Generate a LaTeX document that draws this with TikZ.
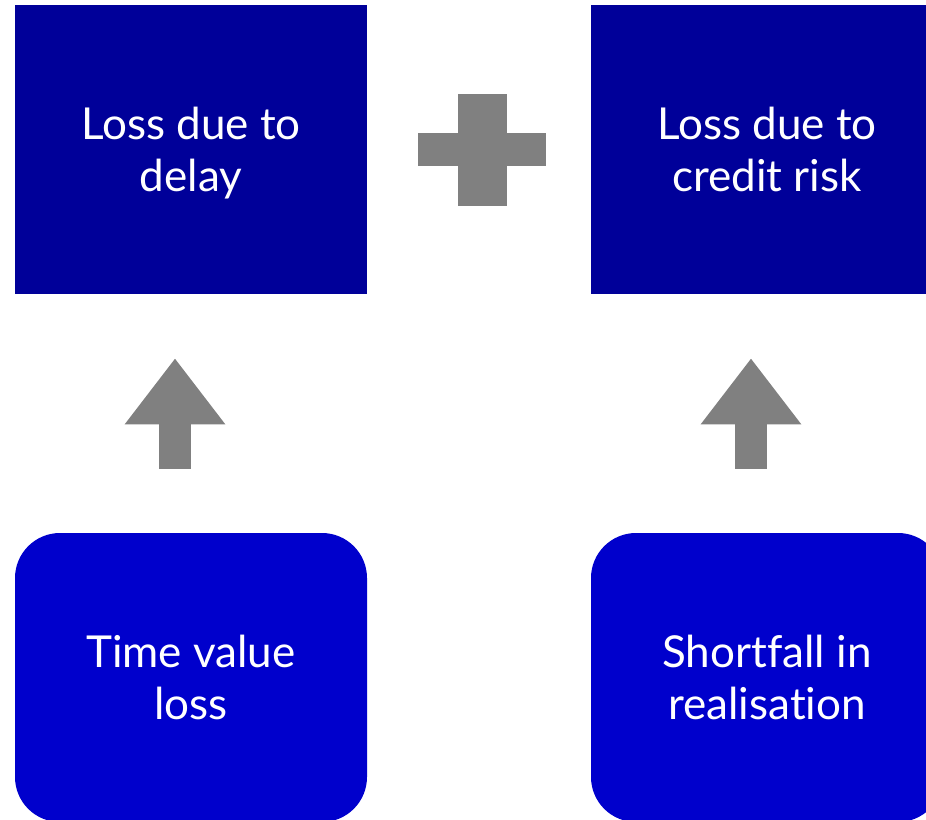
\documentclass[tikz,border=0pt]{standalone}
\usepackage{fontspec}
\setmainfont{Lato}[Ligatures={NoCommon}]
\usetikzlibrary{arrows.meta}

\definecolor{darkbox}{HTML}{000099}
\definecolor{lightbox}{HTML}{0000CC}
\definecolor{signgray}{HTML}{808080}

\tikzstyle{box} = [draw=none,minimum width=264pt,minimum height=216.75pt,inner sep=0pt,text height=63pt,text depth=0pt,text=white,align=center,font=\fontsize{33}{39}\selectfont]
\tikzstyle{topbox} = [box,fill=darkbox]
\tikzstyle{bottombox} = [box,fill=lightbox,rounded corners=33.75pt]
\tikzstyle{blockarrow} = [draw=signgray,line width=24pt,-{Triangle[length=49.5pt,width=72pt]},shorten <=48pt,shorten >=48pt]

\begin{document}
\begin{tikzpicture}[x=0.75pt,y=-0.75pt]
      \useasboundingbox (0,0) rectangle (926,819);
      \clip (0,0) rectangle (926,819);

      %% boxes
      \foreach \nodename/\x/\y/\kind/\label in {
        delay/191/149.5/topbox/{Loss due to\\delay},
        credit/767/149.5/topbox/{Loss due to\\credit risk},
        tvl/191/677.5/bottombox/{Time value\\loss},
        short/767/677.5/bottombox/{Shortfall in\\realisation}}
      {
        \node (\nodename) at (\x,\y) [\kind] {\label};
      }

      %% arrows up
      \foreach \startnode/\endnode in {tvl/delay, short/credit}
      {
        \draw[blockarrow] ([xshift=-12pt]\startnode.north) -- ([xshift=-12pt]\endnode.south);
      }

      %% plus sign
      \coordinate (plus) at (482,149.5);
      \fill[signgray] ([shift={(-64,-16.5)}]plus) rectangle ([shift={(64,16.5)}]plus);
      \fill[signgray] ([shift={(-24.5,-56)}]plus) rectangle ([shift={(24.5,56)}]plus);
\end{tikzpicture}
\end{document}
